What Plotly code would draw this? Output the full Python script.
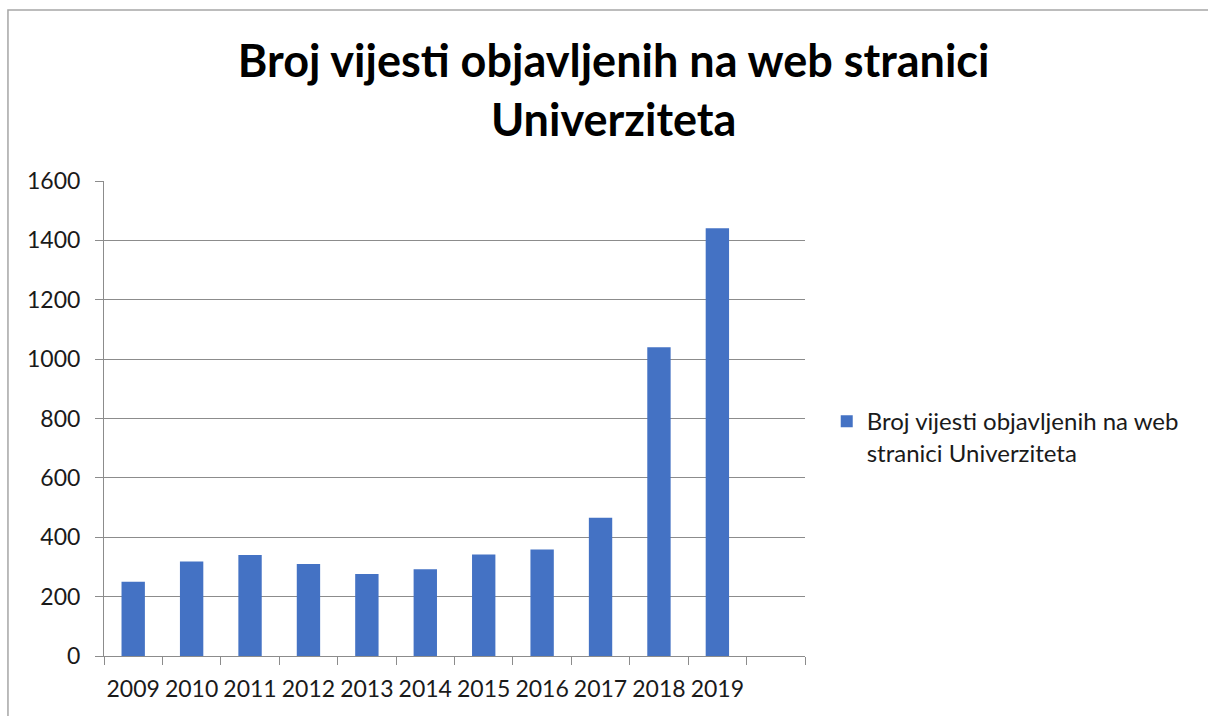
import plotly.graph_objects as go

years = ["2009", "2010", "2011", "2012", "2013", "2014", "2015", "2016", "2017", "2018", "2019"]
news_count = [250, 318, 340, 310, 276, 292, 342, 359, 466, 1040, 1441]
y_ticks = [0, 200, 400, 600, 800, 1000, 1200, 1400, 1600]

series_name = "Broj vijesti objavljenih na web<br>stranici Univerziteta"
chart_title = "Broj vijesti objavljenih na web stranici<br>Univerziteta"

font_family = "Lato, Open Sans, sans-serif"
grey = "#8c8c8c"

fig = go.Figure()
fig.add_trace(go.Bar(
    x=years,
    y=news_count,
    name=series_name,
    marker=dict(color="#4472C4", line=dict(width=0)),
    showlegend=True,
))

fig.update_layout(
    width=1208,
    height=716,
    margin=dict(l=104, r=403, t=181, b=60),
    paper_bgcolor="white",
    plot_bgcolor="white",
    font=dict(family=font_family, color="#1a1a1a", size=23),
    bargap=0.6,
    title=dict(
        text="<b>" + chart_title + "</b>",
        x=0.508, xref="container", xanchor="center",
        y=0.892, yref="container", yanchor="top",
        font=dict(family=font_family, size=45, color="black"),
    ),
    legend=dict(
        x=1.031, xanchor="left",
        y=0.541, yanchor="top",
        valign="top",
        font=dict(size=24, family=font_family),
        itemwidth=30,
        bgcolor="rgba(0,0,0,0)",
    ),
    shapes=[dict(
        type="rect", xref="paper", yref="paper",
        x0=-0.137, x1=1.7, y0=-0.3, y1=1.36,
        line=dict(color="#a6a6a6", width=1.5),
        fillcolor="rgba(0,0,0,0)", layer="below",
    )],
)

fig.update_xaxes(
    type="category",
    categoryorder="array",
    categoryarray=years + [" "],
    range=[-0.5, 11.5],
    tickson="boundaries",
    ticks="outside",
    ticklen=8,
    tickcolor=grey,
    tickangle=0,
    showline=True,
    linecolor=grey,
    linewidth=1,
    showgrid=False,
    tickfont=dict(size=23),
    ticklabelstandoff=12,
)

fig.update_yaxes(
    range=[0, 1600],
    tickvals=y_ticks,
    ticks="outside",
    ticklen=8,
    tickcolor=grey,
    showline=True,
    linecolor=grey,
    linewidth=1,
    showgrid=True,
    gridcolor=grey,
    gridwidth=1,
    zeroline=False,
    tickfont=dict(size=23),
    ticklabelstandoff=10,
)

fig.write_html(
    "out.html",
    config={"displayModeBar": False},
    post_script="document.body.style.margin='0';",
)
